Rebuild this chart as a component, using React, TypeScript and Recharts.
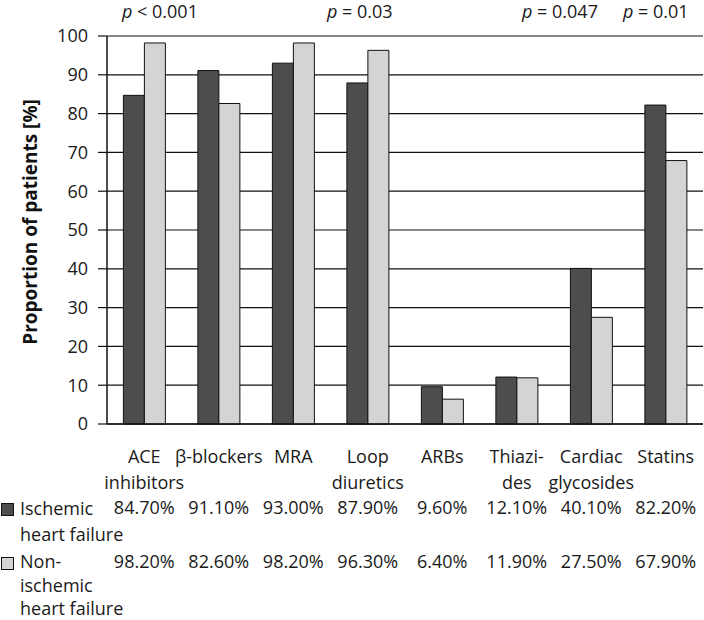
import React from 'react';
import { BarChart, Bar, XAxis, YAxis, CartesianGrid } from 'recharts';

const categories = [
  ['ACE', 'inhibitors'],
  ['β-blockers'],
  ['MRA'],
  ['Loop', 'diuretics'],
  ['ARBs'],
  ['Thiazi-', 'des'],
  ['Cardiac', 'glycosides'],
  ['Statins'],
];
const ischemic = [84.7, 91.1, 93.0, 87.9, 9.6, 12.1, 40.1, 82.2];
const nonIschemic = [98.2, 82.6, 98.2, 96.3, 6.4, 11.9, 27.5, 67.9];
const yTicks = [0, 10, 20, 30, 40, 50, 60, 70, 80, 90, 100];
const pValues = [
  { text: '< 0.001', left: 122 },
  { text: '= 0.03', left: 327 },
  { text: '= 0.047', left: 522 },
  { text: '= 0.01', left: 623 },
];

const FONT = '"Open Sans", sans-serif';
const TEXT = '#1a1a1a';
const DARK = '#4d4d4d';
const LIGHT = '#d4d4d4';

const data = categories.map((lines, i) => ({
  name: lines.join(' '),
  lines,
  ischemic: ischemic[i],
  nonIschemic: nonIschemic[i],
}));

const fmt = (v: number) => `${v.toFixed(2)}%`;

const CategoryTick = (props: any) => {
  const { x, y, index } = props;
  const d = data[index];
  return (
    <g fontFamily={FONT} fontSize={18}>
      {d.lines.map((l: string, i: number) => (
        <text key={i} x={x} y={y + 31 + i * 26} textAnchor="middle" fill={TEXT}>
          {l}
        </text>
      ))}
      <text x={x} y={y + 82} textAnchor="middle" fill={TEXT}>{fmt(d.ischemic)}</text>
      <text x={x} y={y + 136} textAnchor="middle" fill={TEXT}>{fmt(d.nonIschemic)}</text>
    </g>
  );
};

const App: React.FC = () => {
  return (
    <div style={{ position: 'absolute', left: 0, top: 0, width: 704, height: 620, background: '#fff', fontFamily: FONT, overflow: 'hidden' }}>
      <BarChart
        width={704}
        height={620}
        data={data}
        margin={{ top: 36, right: 1, left: 0, bottom: 0 }}
        barGap={0}
        barCategoryGap="22%"
      >
        <CartesianGrid vertical={false} stroke="#111" strokeWidth={1.2} />
        <XAxis
          dataKey="name"
          height={196}
          axisLine={{ stroke: '#111', strokeWidth: 1.5 }}
          tickLine={false}
          interval={0}
          tick={<CategoryTick />}
        />
        <YAxis
          domain={[0, 100]}
          ticks={yTicks}
          width={107}
          axisLine={{ stroke: '#111', strokeWidth: 1.5 }}
          tickLine={{ stroke: '#111', strokeWidth: 1.2 }}
          tickSize={9}
          tickMargin={10}
          tick={{ fill: TEXT, fontSize: 18, fontFamily: FONT }}
          label={{
            value: 'Proportion of patients [%]',
            angle: -90,
            position: 'insideLeft',
            offset: 30,
            dy: -8,
            style: { textAnchor: 'middle', fontWeight: 'bold', fontSize: 19, fill: '#111', fontFamily: FONT },
          }}
        />
        <YAxis
          yAxisId="right"
          orientation="right"
          width={0}
          tick={false}
          tickLine={false}
          axisLine={{ stroke: '#111', strokeWidth: 1.2 }}
        />
        <Bar dataKey="ischemic" fill={DARK} stroke="#111" strokeWidth={1} isAnimationActive={false} />
        <Bar dataKey="nonIschemic" fill={LIGHT} stroke="#111" strokeWidth={1} isAnimationActive={false} />
      </BarChart>

      {pValues.map((p, i) => (
        <div key={i} style={{ position: 'absolute', left: p.left, top: -1, fontSize: 18, color: TEXT, whiteSpace: 'nowrap' }}>
          <i>p</i> {p.text}
        </div>
      ))}

      <div style={{ position: 'absolute', left: 1, top: 503, width: 11, height: 11, background: DARK, border: '1px solid #111' }} />
      <div style={{ position: 'absolute', left: 20, top: 495, fontSize: 18, lineHeight: '26px', color: TEXT }}>
        Ischemic<br />heart failure
      </div>
      <div style={{ position: 'absolute', left: 1, top: 557, width: 11, height: 11, background: LIGHT, border: '1px solid #111' }} />
      <div style={{ position: 'absolute', left: 20, top: 550, fontSize: 18, lineHeight: '23.5px', color: TEXT }}>
        Non-<br />ischemic<br />heart failure
      </div>
    </div>
  );
};

export default App;
